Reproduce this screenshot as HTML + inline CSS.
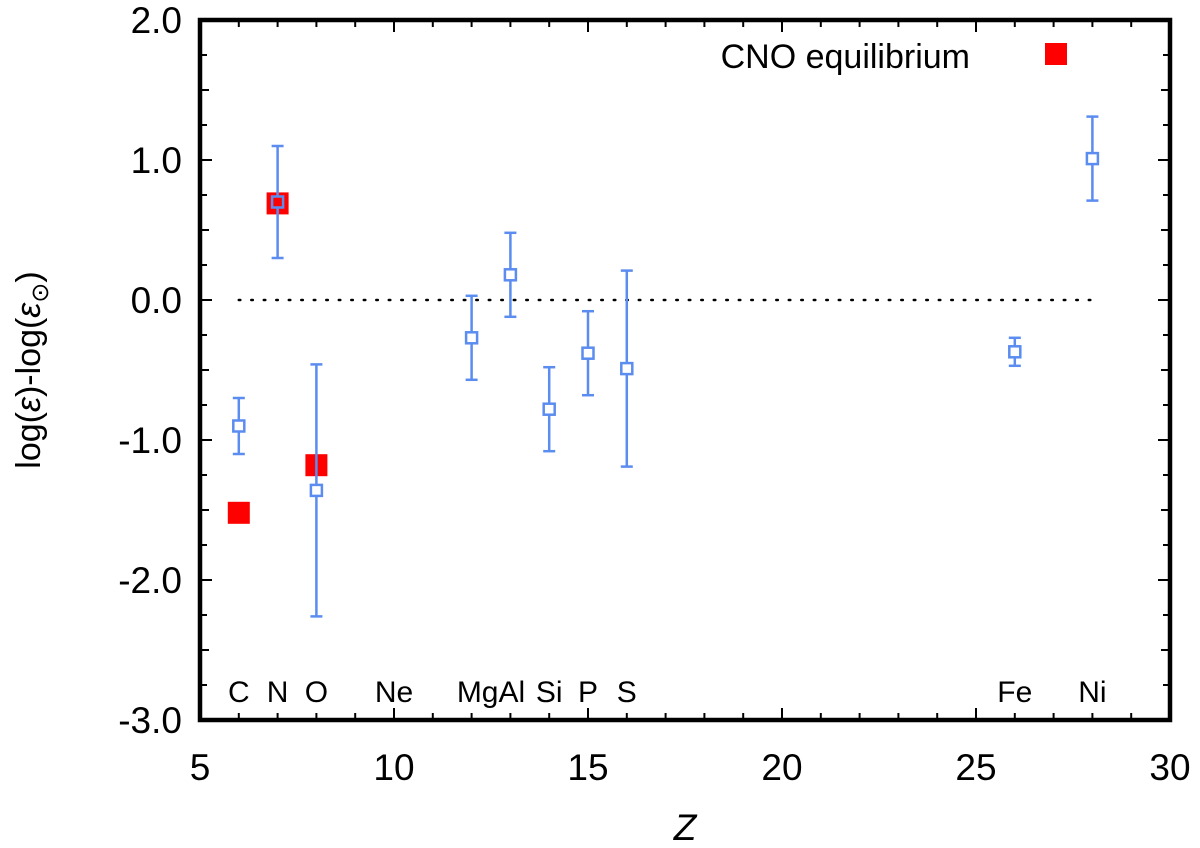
<!DOCTYPE html>
<html><head><meta charset="utf-8"><style>
html,body{margin:0;padding:0;background:#fff;}
svg{display:block;font-family:"Liberation Sans",sans-serif;}
</style></head><body>
<svg id="chart" width="1200" height="848" xmlns="http://www.w3.org/2000/svg"></svg>
<script>
const elements = ["C","N","O","Mg","Al","Si","P","S","Fe","Ni"];
const zValues = [6,7,8,12,13,14,15,16,26,28];
const abundances = [-0.9,0.7,-1.36,-0.27,0.18,-0.78,-0.38,-0.49,-0.37,1.01];
const errors = [0.2,0.4,0.9,0.3,0.3,0.3,0.3,0.7,0.1,0.3];
const cnoZ = [6,7,8];
const cnoValues = [-1.52,0.69,-1.18];
const labelNames = ["C","N","O","Ne","MgAl","Si","P","S","Fe","Ni"];
const labelZ = [6,7,8,10,12.5,14,15,16,26,28];
const xTicks = [5,10,15,20,25,30];
const yTicks = [2.0,1.0,0.0,-1.0,-2.0,-3.0];

const svg = document.getElementById('chart');
const NS = 'http://www.w3.org/2000/svg';
const L=200,R=1170,T=20,B=720;
const xs = z => L + (z-5)/25*(R-L);
const ys = v => T + (2-v)/5*(B-T);
function mk(tag, attrs, parent){const e=document.createElementNS(NS,tag);for(const k in attrs)e.setAttribute(k,attrs[k]);(parent||svg).appendChild(e);return e;}

for(let z=5;z<=30;z++){
  const len = z%5===0?12:7;
  const t1=mk('line',{x1:xs(z),x2:xs(z),y1:B,y2:B-len,stroke:'#000','stroke-width':2});
  
  
  const t2=mk('line',{x1:xs(z),x2:xs(z),y1:T,y2:T+len,stroke:'#000','stroke-width':2});
  
  
}
for(let i=0;i<=20;i++){
  const v=-3+i*0.25;
  const len = (i%4===0)?12:(i%2===0?9:7);
  const t1=mk('line',{x1:L,x2:L+len,y1:ys(v),y2:ys(v),stroke:'#000','stroke-width':2});
  
  
  const t2=mk('line',{x1:R,x2:R-len,y1:ys(v),y2:ys(v),stroke:'#000','stroke-width':2});
  
  
}
xTicks.forEach(z=>{
  const t=mk('text',{x:xs(z),y:B+60,'text-anchor':'middle','font-size':37});
  t.textContent=z;
  
  
});
yTicks.forEach(v=>{
  const t=mk('text',{x:L-18,y:ys(v)+13,'text-anchor':'end','font-size':37});
  t.textContent=v.toFixed(1);
  
  
});
const zl=mk('line',{x1:xs(6),x2:xs(28),y1:ys(0),y2:ys(0),stroke:'#000','stroke-width':2.5,'stroke-dasharray':'1.5 11','stroke-linecap':'round'});


labelNames.forEach((n,i)=>{
  const t=mk('text',{x:xs(labelZ[i]),y:702,'text-anchor':'middle','font-size':30});
  t.textContent=n;
  
  
});
cnoZ.forEach((z,i)=>{
  const r=mk('rect',{x:xs(z)-11,y:ys(cnoValues[i])-11,width:22,height:22,fill:'#ff0000'});
  
  
});
zValues.forEach((z,i)=>{
  const g=mk('g',{stroke:'#5b8cf0','stroke-width':2.5,fill:'none'});
  
  
  const x=xs(z),y=ys(abundances[i]),yt=ys(abundances[i]+errors[i]),yb=ys(abundances[i]-errors[i]);
  mk('line',{x1:x,x2:x,y1:yt,y2:y-6},g);
  mk('line',{x1:x,x2:x,y1:y+6,y2:yb},g);
  mk('line',{x1:x-6,x2:x+6,y1:yt,y2:yt},g);
  mk('line',{x1:x-6,x2:x+6,y1:yb,y2:yb},g);
  mk('rect',{x:x-5.5,y:y-5.5,width:11,height:11},g);
});
const fr=mk('rect',{x:L,y:T,width:R-L,height:B-T,fill:'none',stroke:'#000','stroke-width':4.5});


const lt=mk('text',{x:970,y:68,'text-anchor':'end','font-size':34});
lt.textContent='CNO equilibrium';


const lr=mk('rect',{x:1045,y:43,width:22,height:22,fill:'#ff0000'});


const xt=mk('text',{x:685,y:840,'text-anchor':'middle','font-size':37,'font-style':'italic'});
xt.textContent='Z';


const yt=mk('text',{x:0,y:0,'text-anchor':'middle','font-size':34,transform:'translate(40,370) rotate(-90)'});
yt.innerHTML='log(<tspan font-style="italic">ε</tspan>)-log(<tspan font-style="italic">ε</tspan><tspan font-size="24" dy="8">⊙</tspan><tspan dy="-8">)</tspan>';


</script>
</body></html>
